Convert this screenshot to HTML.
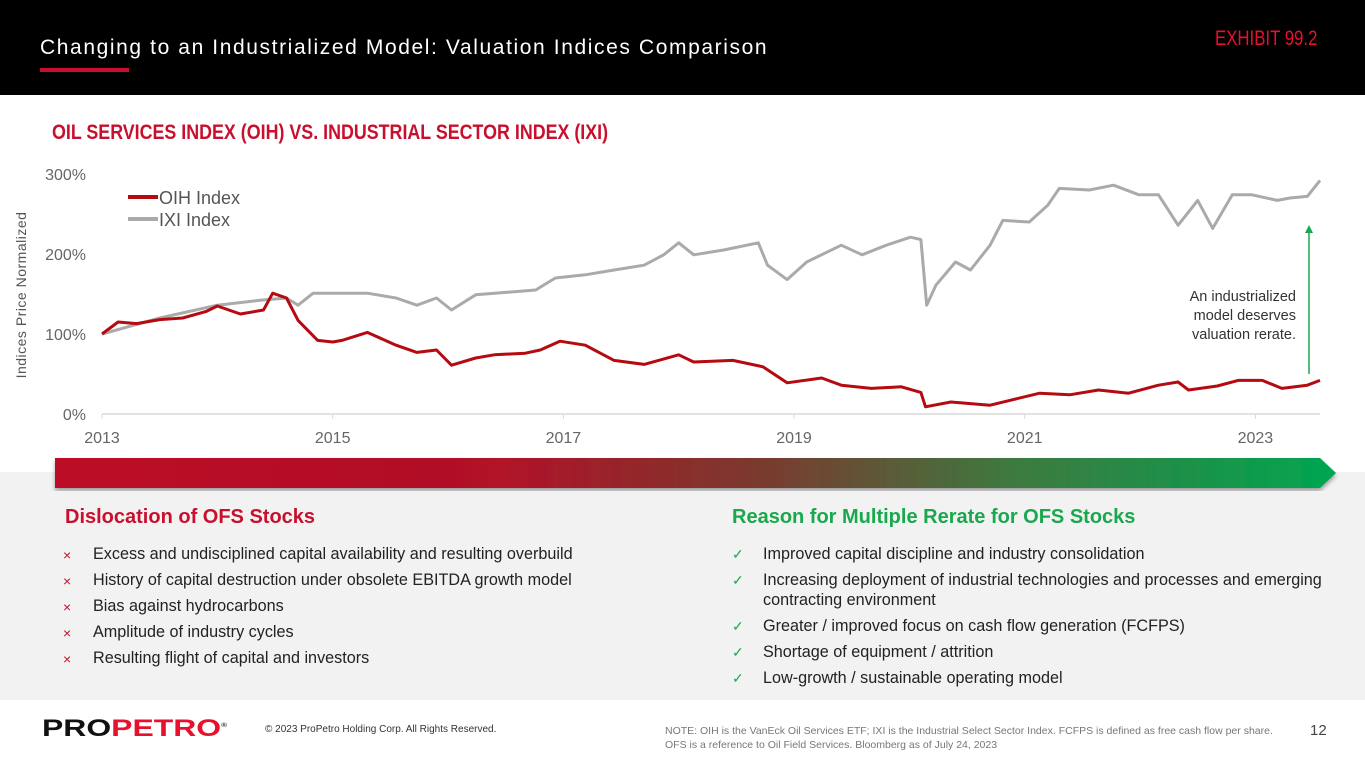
<!DOCTYPE html>
<html><head><meta charset="utf-8">
<style>
*{margin:0;padding:0;box-sizing:border-box}
body{width:1365px;height:768px;overflow:hidden;background:#fff;font-family:"Liberation Sans",sans-serif;position:relative}
.abs{position:absolute}
#header{left:0;top:0;width:1365px;height:95px;background:#000}
#title{left:40px;top:36px;color:#fff;font-size:21px;letter-spacing:1.6px;white-space:nowrap}
#uline{left:40px;top:68px;width:89px;height:4px;background:#c8102e}
#exhibit{left:1215px;top:27px;color:#e8112d;font-size:21px;transform:scaleX(0.8);transform-origin:left top;white-space:nowrap}
#subtitle{left:52px;top:121px;color:#c8102e;font-size:21px;font-weight:bold;transform:scaleX(0.85);transform-origin:left top;white-space:nowrap}
#panel{left:0;top:472px;width:1365px;height:228px;background:#f2f2f2}
.h2{color:#c8102e;font-size:20px;font-weight:bold;white-space:nowrap}
.li{font-size:16.2px;color:#222;position:absolute;white-space:nowrap}
.mk{position:absolute;font-size:14px}
#foot-copy{left:265px;top:724px;font-size:10px;color:#333;white-space:nowrap}
#foot-note{left:665px;top:724px;font-size:10.5px;color:#777;line-height:14px;white-space:nowrap}
#pnum{left:1310px;top:722px;font-size:15px;color:#444}
</style></head><body>
<div class="abs" id="header"></div>
<div class="abs" id="title">Changing to an Industrialized Model: Valuation Indices Comparison</div>
<div class="abs" id="uline"></div>
<div class="abs" id="exhibit">EXHIBIT 99.2</div>
<div class="abs" id="subtitle">OIL SERVICES INDEX (OIH) VS. INDUSTRIAL SECTOR INDEX (IXI)</div>
<div class="abs" id="panel"></div>

<svg class="abs" style="left:0;top:0" width="1365" height="500" id="chart">
<defs><linearGradient id="gr" x1="0" x2="1"><stop offset="0" stop-color="#bd0a26"/><stop offset="0.35" stop-color="#b01228"/><stop offset="0.55" stop-color="#7a3a2e"/><stop offset="0.75" stop-color="#3d7a40"/><stop offset="1" stop-color="#00a651"/></linearGradient>
<filter id="sh"><feDropShadow dx="0" dy="3" stdDeviation="2" flood-opacity="0.35"/></filter></defs>
<polygon points="55,458 1320,458 1336,473 1320,488 55,488" fill="url(#gr)" filter="url(#sh)"/>
<g id="axes"></g><g id="series"></g>
<text x="26" y="295" transform="rotate(-90 26 295)" text-anchor="middle" font-family="Liberation Sans" font-size="14" fill="#555" letter-spacing="0.5">Indices Price Normalized</text>
<g>
<line x1="128" y1="197" x2="158" y2="197" stroke="#b50a10" stroke-width="4"/>
<text x="159" y="204" font-size="18" fill="#555">OIH Index</text>
<line x1="128" y1="219" x2="158" y2="219" stroke="#aaa" stroke-width="4"/>
<text x="159" y="226" font-size="18" fill="#555">IXI Index</text>
</g>
<line x1="1309" y1="374" x2="1309" y2="232" stroke="#1aa84e" stroke-width="1.5"/>
<polygon points="1305,233 1313,233 1309,225" fill="#1aa84e"/>
<g font-size="14.5" fill="#333" text-anchor="end">
<text x="1296" y="301">An industrialized</text><text x="1296" y="320">model deserves</text><text x="1296" y="339">valuation rerate.</text></g>
</svg>

<div class="abs h2" style="left:65px;top:506px">Dislocation of OFS Stocks</div>
<div class="abs h2" style="left:732px;top:506px;color:#1aa84e">Reason for Multiple Rerate for OFS Stocks</div>
<div>
<span class="mk" style="left:63px;top:547px;color:#c8102e">×</span><span class="li" style="left:93px;top:545px">Excess and undisciplined capital availability and resulting overbuild</span>
<span class="mk" style="left:63px;top:573px;color:#c8102e">×</span><span class="li" style="left:93px;top:571px">History of capital destruction under obsolete EBITDA growth model</span>
<span class="mk" style="left:63px;top:599px;color:#c8102e">×</span><span class="li" style="left:93px;top:597px">Bias against hydrocarbons</span>
<span class="mk" style="left:63px;top:625px;color:#c8102e">×</span><span class="li" style="left:93px;top:623px">Amplitude of industry cycles</span>
<span class="mk" style="left:63px;top:651px;color:#c8102e">×</span><span class="li" style="left:93px;top:649px">Resulting flight of capital and investors</span>
</div>
<div>
<span class="mk" style="left:732px;top:546px;color:#1aa84e">✓</span><span class="li" style="left:763px;top:545px">Improved capital discipline and industry consolidation</span>
<span class="mk" style="left:732px;top:572px;color:#1aa84e">✓</span><span class="li" style="left:763px;top:571px">Increasing deployment of industrial technologies and processes and emerging</span>
<span class="li" style="left:763px;top:591px">contracting environment</span>
<span class="mk" style="left:732px;top:618px;color:#1aa84e">✓</span><span class="li" style="left:763px;top:617px">Greater / improved focus on cash flow generation (FCFPS)</span>
<span class="mk" style="left:732px;top:644px;color:#1aa84e">✓</span><span class="li" style="left:763px;top:643px">Shortage of equipment / attrition</span>
<span class="mk" style="left:732px;top:670px;color:#1aa84e">✓</span><span class="li" style="left:763px;top:669px">Low-growth / sustainable operating model</span>
</div>

<div class="abs" style="left:42px;top:715px;font-weight:900;font-size:24px;letter-spacing:0px;transform:scaleX(1.33);transform-origin:left top;white-space:nowrap"><span style="color:#111">PRO</span><span style="color:#e8112d">PETRO</span><sup style="font-size:6px;color:#333">®</sup></div>
<div class="abs" id="foot-copy">© 2023 ProPetro Holding Corp. All Rights Reserved.</div>
<div class="abs" id="foot-note">NOTE: OIH is the VanEck Oil Services ETF; IXI is the Industrial Select Sector Index. FCFPS is defined as free cash flow per share.<br>OFS is a reference to Oil Field Services. Bloomberg as of July 24, 2023</div>
<div class="abs" id="pnum">12</div>

<script>
const xTickLabels=["2013","2015","2017","2019","2021","2023"];
const yTickLabels=["0%","100%","200%","300%"];
const oihYears=[2013.0,2013.14,2013.3,2013.5,2013.7,2013.9,2014.0,2014.2,2014.4,2014.48,2014.6,2014.7,2014.87,2015.0,2015.08,2015.3,2015.55,2015.73,2015.9,2016.03,2016.24,2016.4,2016.67,2016.8,2016.97,2017.19,2017.44,2017.7,2018.0,2018.13,2018.47,2018.73,2018.94,2019.24,2019.41,2019.67,2019.93,2020.1,2020.14,2020.36,2020.7,2020.87,2021.13,2021.39,2021.64,2021.9,2022.16,2022.33,2022.42,2022.67,2022.85,2023.06,2023.23,2023.45,2023.56];
const oihValues=[100,115,113,118,120,128,135,125,130,151,145,117,92,90,92,102,86,77,80,61,70,74,76,80,91,86,67,62,74,65,67,59,39,45,36,32,34,27,9,15,11,17,26,24,30,26,36,40,30,35,42,42,32,36,42];
const ixiYears=[2013.0,2013.5,2014.0,2014.36,2014.6,2014.7,2014.83,2015.04,2015.3,2015.55,2015.73,2015.9,2016.03,2016.24,2016.5,2016.76,2016.93,2017.19,2017.44,2017.7,2017.87,2018.0,2018.13,2018.39,2018.69,2018.77,2018.94,2019.11,2019.41,2019.59,2019.8,2020.01,2020.1,2020.15,2020.23,2020.4,2020.53,2020.7,2020.81,2021.04,2021.2,2021.3,2021.56,2021.77,2021.99,2022.16,2022.33,2022.5,2022.63,2022.8,2022.97,2023.19,2023.3,2023.45,2023.56];
const ixiValues=[100,120,136,142,145,136,151,151,151,145,136,145,130,149,152,155,170,174,180,186,199,214,199,205,214,186,168,190,211,199,211,221,218,136,161,190,180,211,242,240,261,282,280,286,274,274,236,267,232,274,274,267,270,272,292];
const X0=2013,X1=2023.56,PX0=102,PX1=1320,PY0=414,PY1=174;
function xs(y){return PX0+(y-X0)/(X1-X0)*(PX1-PX0);}
function ys(v){return PY0-(v/300)*(PY0-PY1);}
const NS="http://www.w3.org/2000/svg";
const ax=document.getElementById('axes');
function mk(t,a){const e=document.createElementNS(NS,t);for(const k in a)e.setAttribute(k,a[k]);return e;}
const base=mk('line',{x1:PX0,x2:PX1,y1:PY0,y2:PY0,stroke:'#d9d9d9','stroke-width':1.5});


ax.appendChild(base);
xTickLabels.forEach(l=>{const x=xs(+l);
 const t=mk('line',{x1:x,x2:x,y1:PY0,y2:PY0+5,stroke:'#d9d9d9'});ax.appendChild(t);
 const tx=mk('text',{x:x,y:443,'text-anchor':'middle','font-size':16,fill:'#666'});tx.textContent=l;
 
 
 ax.appendChild(tx);});
yTickLabels.forEach(l=>{const v=parseFloat(l);
 const tx=mk('text',{x:86,y:ys(v)+6,'text-anchor':'end','font-size':16,fill:'#666'});tx.textContent=l;
 
 
 ax.appendChild(tx);});
const sg=document.getElementById('series');
function line(yrs,vals,col,name){const p=yrs.map((y,i)=>xs(y).toFixed(1)+','+ys(vals[i]).toFixed(1)).join(' ');
 const pl=mk('polyline',{points:p,fill:'none',stroke:col,'stroke-width':3,'stroke-linejoin':'round'});
 
 
 sg.appendChild(pl);}
line(ixiYears,ixiValues,'#aaaaaa','ixi-line');
line(oihYears,oihValues,'#b50a10','oih-line');
</script>
</body></html>
